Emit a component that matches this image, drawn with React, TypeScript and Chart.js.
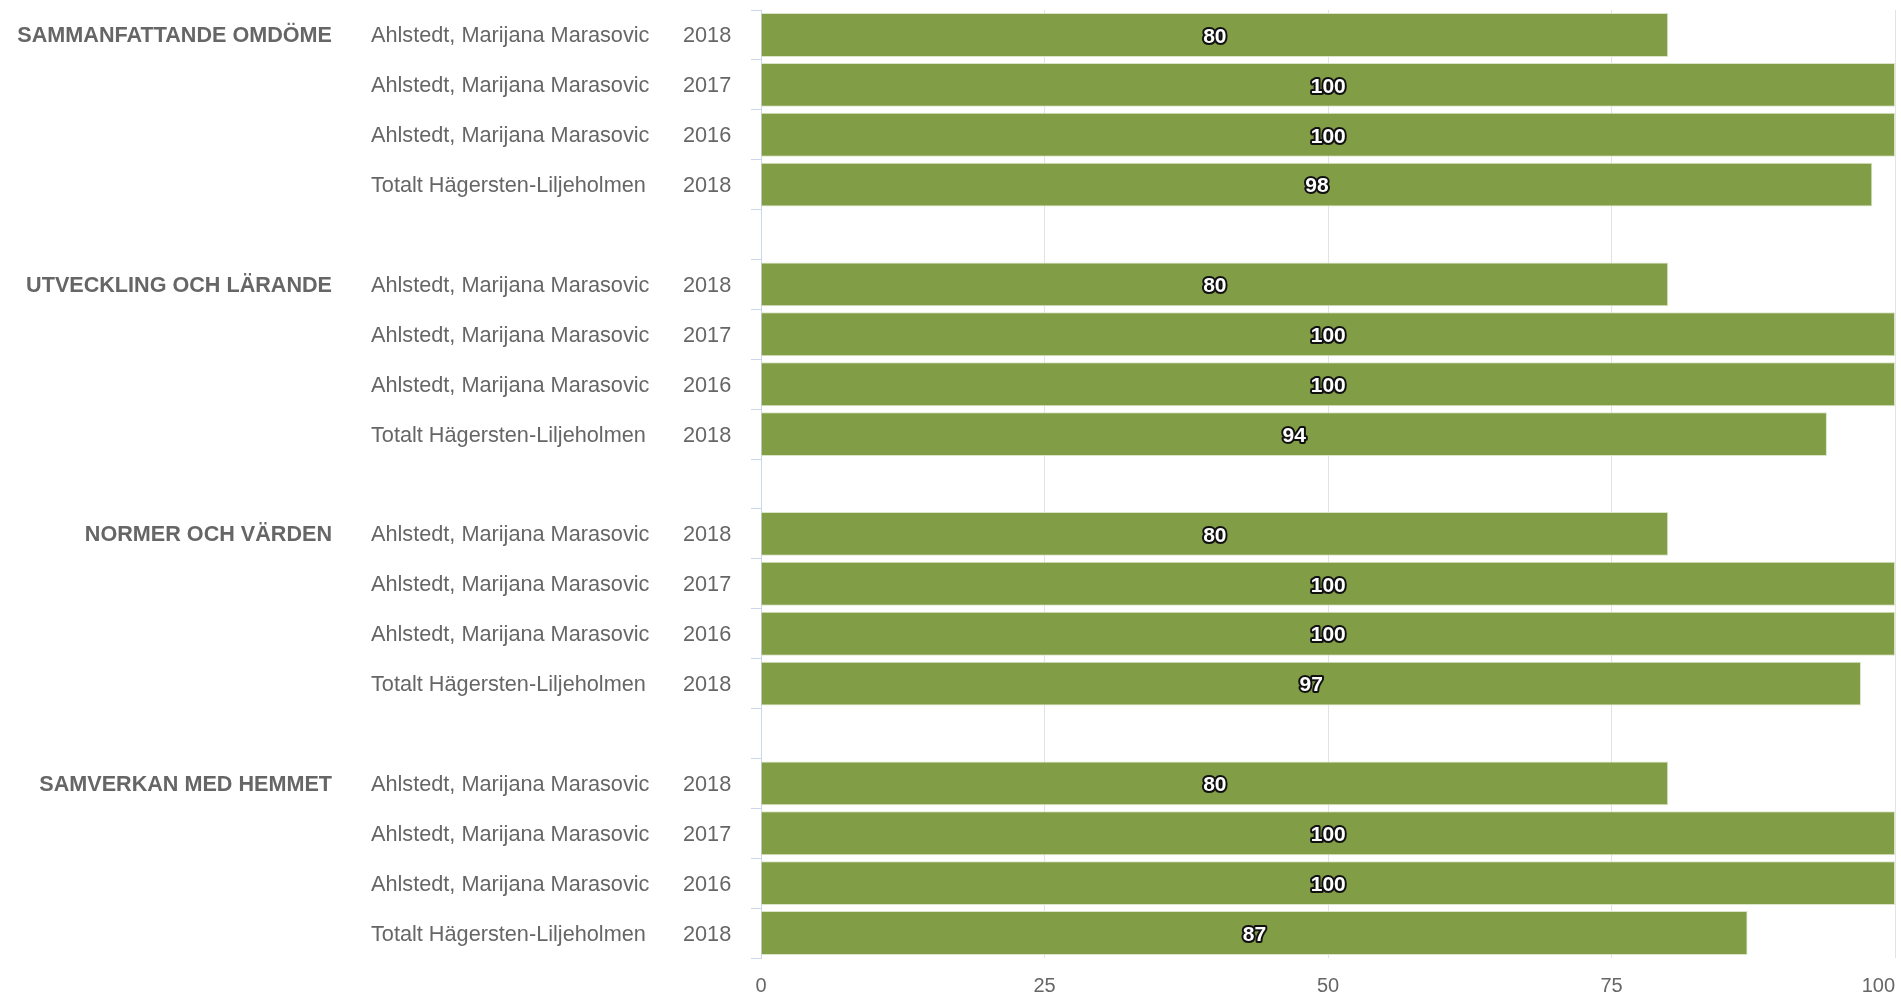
import { useEffect, useRef } from 'react';
import { Chart, registerables } from 'chart.js';

Chart.register(...registerables);

// ---- data ----
const groupNames = [
  'SAMMANFATTANDE OMDÖME',
  'UTVECKLING OCH LÄRANDE',
  'NORMER OCH VÄRDEN',
  'SAMVERKAN MED HEMMET',
];
const rowNames = [
  'Ahlstedt, Marijana Marasovic',
  'Ahlstedt, Marijana Marasovic',
  'Ahlstedt, Marijana Marasovic',
  'Totalt Hägersten-Liljeholmen',
];
const rowYears = ['2018', '2017', '2016', '2018'];

const sammanfattandeOmdome = [80, 100, 100, 98];
const utvecklingOchLarande = [80, 100, 100, 94];
const normerOchVarden = [80, 100, 100, 97];
const samverkanMedHemmet = [80, 100, 100, 87];

const xTickValues = [0, 25, 50, 75, 100];

const groupValues = [sammanfattandeOmdome, utvecklingOchLarande, normerOchVarden, samverkanMedHemmet];

type Cat = { group: string | null; name: string; year: string };
const categories: Cat[] = [];
const values: (number | null)[] = [];
groupValues.forEach((vals, g) => {
  vals.forEach((v, r) => {
    categories.push({ group: r === 0 ? groupNames[g] : null, name: rowNames[r], year: rowYears[r] });
    values.push(v);
  });
  if (g < groupValues.length - 1) {
    categories.push({ group: null, name: '', year: '' });
    values.push(null);
  }
});
const labels = categories.map((c, i) => (c.name ? `${c.name} ${c.year}` : `gap${i}`));

const FONT = '"Liberation Sans", Arial, Helvetica, sans-serif';
const BAR_COLOR = '#819d45';
const TEXT_COLOR = '#666666';

const labelsPlugin = {
  id: 'multiLabels',
  afterDatasetsDraw(chart: any) {
    const ctx = chart.ctx as CanvasRenderingContext2D;
    const ys = chart.scales.y;
    const xs = chart.scales.x;
    const area = chart.chartArea;
    ctx.save();
    ctx.textBaseline = 'middle';
    ctx.fillStyle = TEXT_COLOR;
    categories.forEach((c, i) => {
      const py = ys.getPixelForValue(i) + 1.5;
      if (c.group) {
        ctx.font = `bold 21.6px ${FONT}`;
        ctx.textAlign = 'right';
        ctx.fillText(c.group, 332, py);
      }
      if (c.name) {
        ctx.font = `21.7px ${FONT}`;
        ctx.textAlign = 'left';
        ctx.fillText(c.name, 371, py);
        ctx.fillText(c.year, 683, py);
      }
    });

    // value labels
    const meta = chart.getDatasetMeta(0);
    ctx.font = `bold 21px ${FONT}`;
    ctx.textAlign = 'center';
    ctx.lineJoin = 'round';
    meta.data.forEach((bar: any, i: number) => {
      const v = values[i];
      if (v == null) return;
      const cx = (bar.base + bar.x) / 2;
      const cy = bar.y + 2;
      ctx.lineWidth = 4;
      ctx.strokeStyle = '#111111';
      ctx.strokeText(String(v), cx, cy);
      ctx.fillStyle = '#ffffff';
      ctx.fillText(String(v), cx, cy);
    });

    // x-axis tick labels
    ctx.font = `20px ${FONT}`;
    ctx.fillStyle = TEXT_COLOR;
    const ty = area.bottom + 28;
    xTickValues.forEach((t) => {
      const px = xs.getPixelForValue(t);
      const w = ctx.measureText(String(t)).width;
      let left = px - w / 2;
      if (left + w > area.right) left = area.right - w;
      ctx.textAlign = 'left';
      ctx.fillText(String(t), left, ty);
    });
    ctx.restore();
  },
};

export default function App() {
  const ref = useRef<HTMLCanvasElement | null>(null);
  useEffect(() => {
    if (!ref.current) return;
    const chart = new Chart(ref.current, {
      type: 'bar',
      data: {
        labels,
        datasets: [
          {
            data: values as any,
            backgroundColor: BAR_COLOR,
            borderColor: '#dbe5c8',
            borderWidth: 1,
            barPercentage: 0.88,
            categoryPercentage: 1,
          },
        ],
      },
      options: {
        indexAxis: 'y',
        animation: false,
        responsive: true,
        maintainAspectRatio: false,
        layout: { padding: { top: 10, bottom: 37, left: 0, right: 6 } },
        plugins: {
          legend: { display: false },
          tooltip: { enabled: false },
          title: { display: false },
        },
        scales: {
          x: {
            type: 'linear',
            min: 0,
            max: 100,
            ticks: { display: false, stepSize: 25 },
            grid: { color: '#e3e3e3', lineWidth: 1, drawTicks: false },
            border: { display: false },
          },
          y: {
            type: 'category',
            ticks: { display: false },
            grid: {
              offset: true,
              drawOnChartArea: false,
              drawTicks: true,
              tickLength: 10,
              color: '#ccd6eb',
              lineWidth: 1,
            },
            border: { display: true, color: '#ccd6eb', width: 1 },
            afterFit: (scale: any) => {
              scale.width = 761;
            },
          },
        },
      },
      plugins: [labelsPlugin],
    });
    return () => chart.destroy();
  }, []);
  return (
    <div style={{ position: 'absolute', left: 0, top: 0, width: 1901, height: 995, background: '#fff' }}>
      <canvas ref={ref} />
    </div>
  );
}
